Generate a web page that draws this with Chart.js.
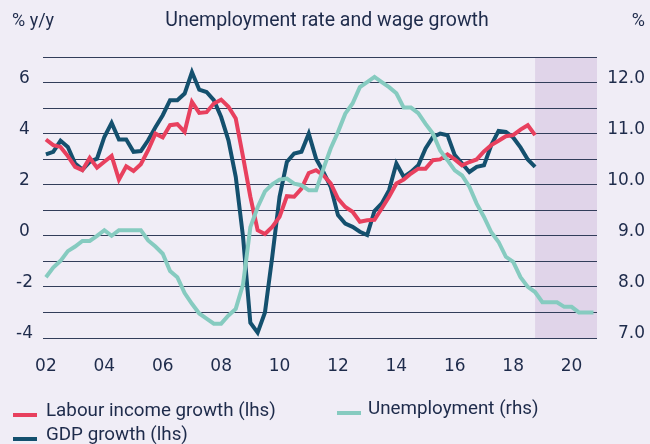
<!DOCTYPE html>
<html>
<head>
<meta charset="utf-8">
<script src="https://cdn.jsdelivr.net/npm/chart.js@4.4.1/dist/chart.umd.min.js"></script>
<style>
  html, body { margin: 0; padding: 0; background: #f0edf6; }
  #wrap { position: relative; width: 650px; height: 444px; overflow: hidden; background: #f0edf6; }
  #grafica { position: absolute; left: 0; top: 0; }
  .txt { position: absolute; color: #1e2b4b; font-family: Roboto, sans-serif; white-space: nowrap; }
  .sw { position: absolute; width: 24px; height: 4px; }
</style>
</head>
<body>
<div id="wrap">
  <canvas id="grafica" width="650" height="444"></canvas>
  <div class="txt" style="left:12px; top:9px; font-size:18px;">% y/y</div>
  <div class="txt" style="left:0; width:654px; text-align:center; top:8px; font-size:19.5px;">Unemployment rate and wage growth</div>
  <div class="txt" style="right:5px; top:9px; font-size:18px;">%</div>

  <div class="sw" style="left:13px; top:413px; background:#e8405e;"></div>
  <div class="txt" style="left:46px; top:399px; font-size:18.8px;">Labour income growth (lhs)</div>
  <div class="sw" style="left:337px; top:411px; background:#86cbc0;"></div>
  <div class="txt" style="left:368px; top:397px; font-size:18.8px;">Unemployment (rhs)</div>
  <div class="sw" style="left:13px; top:437px; background:#14506e;"></div>
  <div class="txt" style="left:46px; top:423px; font-size:18.8px;">GDP growth (lhs)</div>
</div>
<script>
// primer trimestre y paso (datos trimestrales desde 2002K1)
const startYear = 2002;
const forecastStart = 2018.75;

// crecimiento de la renta del trabajo, % a/a (eje izq.)
const labourIncome = [
  3.77, 3.55, 3.48, 3.12, 2.70, 2.57, 3.05, 2.67, 2.90, 3.13,
  2.20, 2.72, 2.54, 2.80, 3.35, 4.00, 3.85, 4.33, 4.37, 4.07,
  5.24, 4.81, 4.84, 5.18, 5.33, 5.05, 4.59, 3.09, 1.53, 0.22,
  0.07, 0.35, 0.74, 1.55, 1.53, 1.85, 2.46, 2.57, 2.37, 2.05,
  1.46, 1.13, 0.94, 0.55, 0.61, 0.63, 1.07, 1.53, 2.05, 2.20,
  2.44, 2.63, 2.63, 2.96, 2.99, 3.19, 2.99, 2.76, 2.89, 2.99,
  3.30, 3.55, 3.72, 3.90, 3.94, 4.16, 4.33, 3.94
];

// crecimiento del PIB, % a/a (eje izq.)
const gdpGrowth = [
  3.19, 3.29, 3.72, 3.48, 2.83, 2.59, 2.89, 3.02, 3.87, 4.42,
  3.77, 3.77, 3.29, 3.32, 3.74, 4.25, 4.72, 5.31, 5.31, 5.57,
  6.41, 5.72, 5.63, 5.31, 4.65, 3.74, 2.31, -0.04, -3.40, -3.79,
  -3.00, -0.82, 1.53, 2.89, 3.22, 3.29, 4.00, 3.02, 2.50, 1.92,
  0.81, 0.48, 0.35, 0.16, 0.03, 0.97, 1.27, 1.79, 2.83, 2.31,
  2.50, 2.76, 3.42, 3.87, 4.00, 3.94, 3.16, 2.83, 2.50, 2.70,
  2.76, 3.55, 4.11, 4.07, 3.85, 3.46, 2.99, 2.70
];

// tasa de paro, % (eje der.)
const unemployment = [
  8.19, 8.38, 8.51, 8.70, 8.79, 8.90, 8.90, 9.00, 9.11, 9.00,
  9.11, 9.11, 9.11, 9.11, 8.91, 8.79, 8.65, 8.31, 8.19, 7.88,
  7.67, 7.48, 7.38, 7.28, 7.28, 7.44, 7.57, 8.05, 9.17, 9.56,
  9.87, 10.01, 10.10, 10.12, 10.02, 9.99, 9.89, 9.89, 10.31, 10.71,
  11.03, 11.39, 11.59, 11.91, 12.01, 12.11, 12.01, 11.91, 11.79, 11.51,
  11.51, 11.40, 11.19, 11.00, 10.67, 10.48, 10.28, 10.18, 9.96, 9.63,
  9.37, 9.07, 8.88, 8.59, 8.49, 8.19, 8.00, 7.90, 7.70, 7.70,
  7.70, 7.61, 7.61, 7.50, 7.50, 7.50
];

// etiquetas de los ejes
const xTickYears = [2002, 2004, 2006, 2008, 2010, 2012, 2014, 2016, 2018, 2020];
const leftGridValues = [-4, -3, -2, -1, 0, 1, 2, 3, 4, 5, 6, 7];
const leftTickLabels = [-4, -2, 0, 2, 4, 6];
const rightTickLabels = [7, 8, 9, 10, 11, 12];

const toPoints = arr => arr.map((v, i) => ({ x: startYear + i * 0.25, y: v }));

const INK = '#1e2b4b';
const GRID = '#323d5a';

// zona sombreada de previsión
const shadePlugin = {
  id: 'sombra',
  beforeDraw(chart) {
    const { ctx, chartArea, scales } = chart;
    const x0 = scales.x.getPixelForValue(forecastStart);
    ctx.save();
    ctx.fillStyle = '#e0d4e9';
    ctx.fillRect(x0, chartArea.top, chartArea.right - x0, chartArea.bottom - chartArea.top);
    ctx.restore();
  }
};

const canvas = document.getElementById('grafica');
new Chart(canvas, {
  type: 'line',
  data: {
    datasets: [
      {
        label: 'Labour income growth (lhs)',
        data: toPoints(labourIncome),
        borderColor: '#e8405e',
        yAxisID: 'y',
        order: 2
      },
      {
        label: 'Unemployment (rhs)',
        data: toPoints(unemployment),
        borderColor: '#86cbc0',
        yAxisID: 'y2',
        order: 1
      },
      {
        label: 'GDP growth (lhs)',
        data: toPoints(gdpGrowth),
        borderColor: '#14506e',
        yAxisID: 'y',
        order: 3
      }
    ]
  },
  options: {
    responsive: false,
    animation: false,
    devicePixelRatio: 1,
    layout: { padding: { top: 57, right: 5, bottom: 66, left: 0 } },
    elements: {
      point: { radius: 0 },
      line: { borderWidth: 4, tension: 0, fill: false }
    },
    plugins: {
      legend: { display: false },
      tooltip: { enabled: false }
    },
    scales: {
      x: {
        type: 'linear',
        min: 2001.9,
        max: 2020.87,
        grid: { display: false },
        border: { display: false },
        afterBuildTicks: s => { s.ticks = xTickYears.map(v => ({ value: v })); },
        afterFit: s => { s.height = 40; },
        ticks: {
          autoSkip: false,
          maxRotation: 0,
          padding: 10,
          color: INK,
          font: { family: 'DejaVu Sans', size: 17 },
          callback: v => String(v).slice(2)
        }
      },
      y: {
        position: 'left',
        min: -4,
        max: 7,
        border: { display: false },
        grid: { color: GRID, lineWidth: 1, drawTicks: false },
        afterBuildTicks: s => { s.ticks = leftGridValues.map(v => ({ value: v })); },
        afterFit: s => { s.width = 43; },
        ticks: {
          crossAlign: 'center',
          padding: 10,
          labelOffset: -4,
          color: INK,
          font: { family: 'DejaVu Sans', size: 17 },
          callback: v => leftTickLabels.includes(v) ? String(v) : ''
        }
      },
      y2: {
        position: 'right',
        min: 7,
        max: 12.5,
        border: { display: false },
        grid: { display: false, drawTicks: false },
        afterBuildTicks: s => { s.ticks = rightTickLabels.map(v => ({ value: v })); },
        afterFit: s => { s.width = 48; },
        ticks: {
          crossAlign: 'far',
          padding: 6,
          labelOffset: -4,
          color: INK,
          font: { family: 'DejaVu Sans', size: 17 },
          callback: v => v.toFixed(1)
        }
      }
    }
  },
  plugins: [shadePlugin]
});
</script>
</body>
</html>
